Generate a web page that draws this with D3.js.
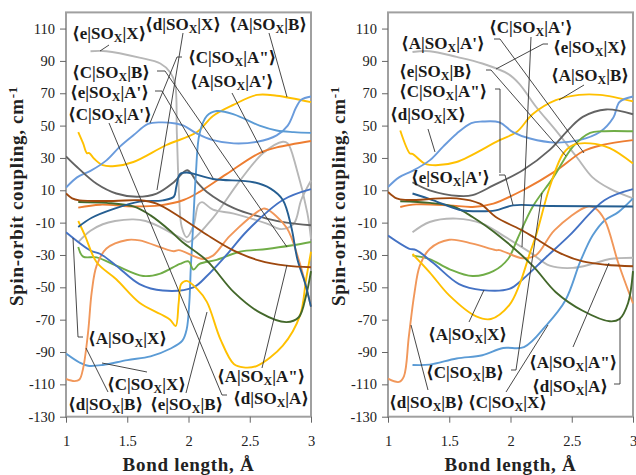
<!DOCTYPE html>
<html><head><meta charset="utf-8">
<script src="https://cdn.jsdelivr.net/npm/d3@7/dist/d3.min.js"></script>
<style>html,body{margin:0;padding:0;background:#fff}svg{display:block}</style>
</head><body><svg id="c" width="636" height="475"></svg>
<script>
const xTicks=[1,1.5,2,2.5,3];
const yTicks=[110,90,70,50,30,10,-10,-30,-50,-70,-90,-110,-130];

// left panel series [bond length, coupling]
const L_yellowAB=[[1.1,46],[1.14,39],[1.17,33],[1.19,33],[1.23,29.5],[1.3,25.5],[1.4,25],[1.55,27.5],[1.82,38],[2.07,46],[2.2,56],[2.37,63],[2.56,69],[2.72,68.5],[3,64.5]];
const L_midBlue=[[1,11.6],[1.09,18],[1.2,22],[1.33,28.5],[1.44,37],[1.55,44],[1.67,51],[1.77,52],[1.895,51.3],[1.96,50],[2.07,45],[2.2,41],[2.37,39],[2.56,40],[2.72,44],[2.81,50],[2.88,61.5],[2.92,66],[3,68]];
const L_lightBlue=[[1,-91],[1.11,-96.5],[1.18,-98.5],[1.3,-98],[1.5,-95],[1.69,-92.7],[1.85,-88],[1.95,-83],[1.985,-76],[2.007,-59],[2.018,-39],[2.034,-17],[2.06,20],[2.09,45],[2.15,56],[2.23,59],[2.37,57],[2.58,50],[2.72,47],[2.86,46],[3,45.5]];
const L_orange=[[1.1,-.7],[1.28,1.1],[1.55,0],[1.77,.7],[1.96,4],[2.09,9],[2.31,20],[2.58,33],[2.72,36.5],[3,40.5]];
const L_darkGray=[[1,31],[1.09,24.4],[1.25,14],[1.41,8],[1.58,6],[1.74,8],[1.88,15],[1.99,22.4],[2.07,15],[2.15,9],[2.37,-1],[2.64,-7.5],[2.8,-10],[3,-11.6]];
const L_darkBlue=[[1.1,-12.7],[1.21,-7],[1.39,-1.5],[1.6,3],[1.79,3.8],[1.88,6],[1.9,12],[1.93,20],[1.985,21],[2.2,17],[2.53,15],[2.67,11],[2.77,4],[2.84,-13],[2.89,-33],[2.95,-47],[3,-62]];
const L_blue=[[1,-16],[1.2,-27.3],[1.28,-29.4],[1.41,-36.6],[1.6,-48],[1.79,-52],[2.04,-50],[2.15,-43],[2.31,-30],[2.48,-15],[2.77,4],[3,10.7]];
const L_brown=[[1,8],[1.05,5],[1.11,3.8],[1.39,3.4],[1.6,3.8],[1.74,1.7],[1.93,-6.5],[2.15,-17.5],[2.37,-27.3],[2.58,-33.5],[2.8,-36.6],[3,-37.6]];
const L_darkGreen=[[1.1,2.8],[1.33,2.2],[1.55,0],[1.69,-5.5],[1.85,-15],[1.95,-22],[2.15,-33.5],[2.37,-53],[2.58,-65.5],[2.8,-71.5],[2.9,-68.5],[2.96,-55],[3,-40]];
const L_green=[[1.1,-25],[1.14,-31],[1.25,-31.5],[1.41,-36.6],[1.63,-43],[1.77,-41.5],[1.93,-35.5],[2,-34],[2.04,-39],[2.09,-35.5],[2.23,-33],[2.42,-28],[2.64,-26.3],[2.85,-24],[3,-22]];
const L_lightOrange=[[1,-106.7],[1.07,-108],[1.11,-107],[1.14,-100],[1.18,-78],[1.21,-53],[1.25,-36.6],[1.33,-26],[1.5,-20.7],[1.6,-21],[1.88,-27.7],[1.92,-27],[2.12,-32.5],[2.2,-30.4],[2.34,-18],[2.61,-1.3],[2.64,-1.7],[2.8,-13],[2.9,-33],[3,-62]];
const L_yellowEB=[[1.1,-9],[1.155,-18],[1.25,-34.5],[1.41,-45],[1.6,-59.5],[1.77,-66.5],[1.85,-70],[1.895,-74],[1.92,-59.5],[1.94,-48],[1.985,-46],[2.07,-51],[2.15,-59],[2.26,-82],[2.37,-97.4],[2.45,-99.5],[2.56,-98.5],[2.77,-86],[2.91,-67.5],[2.96,-45],[3,-28]];
const L_grayEX=[[1.2,96],[1.33,96],[1.6,92],[1.77,88.4],[1.85,83],[1.89,76],[1.905,45],[1.925,4],[1.945,-12.7],[1.985,-19],[2.04,-12],[2.08,1],[2.11,2.7],[2.2,-2],[2.37,-4.4],[2.64,-10.6],[2.76,-14],[2.86,-10.6],[2.92,4],[3,16]];
const L_grayAA=[[1.1,-22],[1.2,-15],[1.3,-11],[1.4,-9],[1.55,-8],[1.65,-9],[1.75,-12],[1.85,-16],[1.95,-20],[2,-22],[2.2,-7],[2.42,16],[2.61,33],[2.77,40],[2.81,39],[2.88,24],[2.97,-4],[3,-20]];

// right panel series
const R_yellowAB=[[1.1,47],[1.18,32.7],[1.2,32.5],[1.3,26.5],[1.39,25.5],[1.56,27.5],[1.91,41],[2.05,46],[2.18,57],[2.37,65.7],[2.56,69],[2.73,69],[3,65]];
const R_midBlue=[[1,12],[1.09,18],[1.2,22],[1.34,28.5],[1.45,37],[1.56,45],[1.68,51.6],[1.77,52.5],[1.91,52],[2.02,46],[2.16,42],[2.37,39.5],[2.56,41],[2.73,46],[2.84,55],[2.89,64.6],[3,68]];
const R_grayEX=[[1.2,95.5],[1.34,96],[1.56,92.5],[1.77,88.4],[1.98,82],[2.07,76],[2.21,61.5],[2.37,47],[2.54,30.6],[2.67,18],[2.81,11],[3,5]];
const R_darkGray=[[1.2,15],[1.34,10],[1.58,6.5],[1.69,7],[1.86,13],[2.1,22.4],[2.32,35],[2.48,48],[2.59,55.4],[2.78,60],[3,57]];
const R_orange=[[1.1,-.3],[1.23,1.3],[1.5,.7],[1.69,-.3],[1.86,1.8],[2.1,10],[2.37,22],[2.59,34],[2.75,38],[3,41]];
const R_darkBlue=[[1.2,8],[1.37,3.8],[1.58,-2],[1.75,-3],[1.88,-2.4],[2.02,.7],[2.32,.3],[3,0]];
const R_brown=[[1,9],[1.07,5],[1.15,4],[1.56,5],[1.75,1.7],[1.88,-6.5],[2.1,-15],[2.2,-19.5],[2.4,-28.7],[2.59,-34],[2.78,-36],[3,-37]];
const R_darkGreen=[[1.1,3.2],[1.34,2.2],[1.53,0],[1.69,-6.5],[1.92,-19],[2.18,-36.6],[2.37,-53],[2.59,-64.5],[2.81,-71],[2.89,-69.6],[2.96,-59.7],[3,-40]];
const R_grayAA=[[1.2,-16],[1.34,-9.6],[1.56,-7.5],[1.77,-10.6],[1.95,-18.5],[2.16,-28.4],[2.32,-36.6],[2.51,-38],[2.67,-35.5],[2.81,-32.5],[3,-31.7]];
const R_green=[[1.2,-30.4],[1.34,-32.5],[1.5,-38.7],[1.69,-43],[1.86,-40],[1.98,-32.5],[2.06,-19.5],[2.18,-.3],[2.35,18],[2.51,37],[2.65,45.5],[2.75,46.5],[3,46.5]];
const R_yellowEB=[[1.2,-29.4],[1.34,-40.7],[1.5,-55],[1.72,-68],[1.84,-69.6],[1.99,-61],[2.07,-49],[2.16,-28.4],[2.21,-17.5],[2.32,12],[2.43,32.7],[2.51,38],[2.65,39],[2.81,36],[3,26.5]];
const R_blue=[[1,-18],[1.17,-26],[1.23,-27],[1.37,-35],[1.58,-48],[1.77,-51.7],[1.99,-51],[2.1,-45],[2.29,-31.4],[2.48,-18],[2.77,4],[3,10.7]];
const R_lightBlue=[[1.2,-98],[1.34,-97.8],[1.56,-94],[1.77,-92],[1.94,-87.5],[2.11,-87],[2.29,-73.7],[2.45,-57.8],[2.57,-34],[2.67,-18],[2.77,-8.5],[2.88,-3.5],[3,5]];
const R_lightOrange=[[1,-106.5],[1.09,-108.5],[1.13,-105],[1.17,-80.5],[1.215,-54],[1.26,-36.6],[1.34,-26.3],[1.5,-20.6],[1.69,-23],[1.88,-27],[1.91,-27],[2.1,-32],[2.21,-30],[2.36,-14.6],[2.63,0],[2.69,-1],[2.77,-8.5],[2.88,-35],[3,-60]];

const colors={yellow:"#ffc000",midBlue:"#6a9bdc",lightBlue:"#5b9bd5",orange:"#ed7d31",darkGray:"#636363",darkBlue:"#255e91",blue:"#4472c4",brown:"#9e480e",darkGreen:"#43682b",green:"#70ad47",lightOrange:"#f1975a",gray:"#b7b7b7"};

const leftSeries=[[L_grayEX,colors.gray],[L_grayAA,colors.gray],[L_yellowAB,colors.yellow],[L_midBlue,colors.midBlue],[L_orange,colors.orange],[L_darkGray,colors.darkGray],[L_lightBlue,colors.lightBlue],[L_green,colors.green],[L_lightOrange,colors.lightOrange],[L_blue,colors.blue],[L_yellowEB,colors.yellow],[L_darkGreen,colors.darkGreen],[L_darkBlue,colors.darkBlue],[L_brown,colors.brown]];
const rightSeries=[[R_grayEX,colors.gray],[R_grayAA,colors.gray],[R_yellowAB,colors.yellow],[R_midBlue,colors.midBlue],[R_darkGray,colors.darkGray],[R_orange,colors.orange],[R_lightBlue,colors.lightBlue],[R_green,colors.green],[R_lightOrange,colors.lightOrange],[R_blue,colors.blue],[R_yellowEB,colors.yellow],[R_darkGreen,colors.darkGreen],[R_darkBlue,colors.darkBlue],[R_brown,colors.brown]];

// labels: [head, tail, left, baseline]
const leftLabels=[["e","X",72,39],["d","X",145,30],["A","B",229,30],["C",'A"',188,63],["C","B",72,78],["A","A'",190,87],["e","A'",70,98],["C","A'",68,120],["A","X",88,344],["C","X",107,390],["d","B",68,410],["e","B",150,410],["A",'A"',217,382],["d","A",233,404]];
const rightLabels=[["A","A'",401,49],["C","A'",489,33],["e","X",553,53],["e","B",399,77],["A","B",551,81],["C",'A"',399,97],["d","X",390,120],["e","A'",411,183],["A","X",428,340],["A",'A"',529,368],["C","B",426,378],["d","A",532,392],["d","B",389,408],["C","X",468,408]];
const leftLeaders=[[[100,51],[109,45]],[[183,33],[157,190]],[[269,33],[287,97]],[[182,57],[177,57],[150,123]],[[157,71],[165,71],[287,247]],[[155,91],[162,91],[213,178]],[[232,93],[263,153]],[[109,123],[222,395],[227,395]],[[73,238],[78,337],[83,337]],[[102,363],[147,372]],[[86,348],[108,392]],[[207,312],[186,393]],[[287,265],[262,368]]];
const rightLeaders=[[[494,39],[500,39],[584,153]],[[486,70],[491,70],[566,156]],[[548,44],[543,44],[496,69]],[[531,37],[522,247]],[[584,85],[559,100]],[[495,89],[500,89],[500,173]],[[428,129],[435,152]],[[499,175],[505,175],[513,205]],[[484,290],[469,322]],[[511,370],[516,370],[542,193]],[[573,347],[609,263]],[[614,384],[620,384],[620,318]],[[411,325],[428,390]],[[506,392],[548,325]]];

const serif="'Liberation Serif','DejaVu Serif',serif";
const svg=d3.select("#c");
const y=d3.scaleLinear().domain([-130,120]).range([416.7,12.4]);

function panel(x0,x1,series,labels,leaders){
  const x=d3.scaleLinear().domain([1,3]).range([x0,x1]);
  const g=svg.append("g");
  const line=d3.line().x(d=>x(d[0])).y(d=>y(d[1])).curve(d3.curveCatmullRom.alpha(0.5));
  g.append("rect").attr("x",x0).attr("y",y(120)).attr("width",x1-x0).attr("height",y(-130)-y(120)).attr("fill","none").attr("stroke","#a0a0a0").attr("stroke-width",2);
  const clip="clip"+Math.round(x0);
  g.append("clipPath").attr("id",clip).append("rect").attr("x",x0).attr("y",y(120)).attr("width",x1-x0+1).attr("height",y(-130)-y(120));
  g.append("g").attr("clip-path",`url(#${clip})`).selectAll("path").data(series).join("path")
    .attr("d",d=>line(d[0])).attr("fill","none").attr("stroke",d=>d[1]).attr("stroke-width",1.9).attr("stroke-linejoin","round");
  const ax=g.append("g").attr("transform",`translate(0,${y(-130)})`).call(d3.axisBottom(x).tickValues(xTicks).tickFormat(d=>d).tickSize(6).tickPadding(13));
  const ay=g.append("g").attr("transform",`translate(${x0},0)`).call(d3.axisLeft(y).tickValues(yTicks).tickSize(6).tickPadding(5).tickFormat(d=>d));
  [ax,ay].forEach(a=>{a.select(".domain").remove();a.selectAll("line").attr("stroke","#666").attr("stroke-width",1);
    a.selectAll("text").attr("font-family",serif).attr("font-size",14.5).attr("fill","#222");});
  g.append("g").selectAll("path").data(leaders).join("path").attr("d",d=>d3.line()(d)).attr("fill","none").attr("stroke","#333").attr("stroke-width",.9);
  const t=g.append("g").selectAll("text").data(labels).join("text").attr("x",d=>d[2]).attr("y",d=>d[3])
    .attr("font-family",serif).attr("font-weight","bold").attr("font-size",17).attr("fill","#1a1a1a");
  t.append("tspan").text(d=>`⟨${d[0]}|SO`);
  t.append("tspan").attr("dy",3).attr("font-size",12).text("X");
  t.append("tspan").attr("dy",-3).text(d=>`|${d[1]}⟩`);
  const mid=(x0+x1)/2;
  g.append("text").attr("x",mid).attr("y",471).attr("text-anchor","middle").attr("font-family",serif).attr("font-weight","bold").attr("font-size",19).attr("letter-spacing",.7).attr("fill","#222").text("Bond length, Å");
  const ty=x0-43;
  const yt=g.append("text").attr("transform",`translate(${ty},196) rotate(-90)`).attr("text-anchor","middle").attr("font-family",serif).attr("font-weight","bold").attr("font-size",19).attr("letter-spacing",.7).attr("fill","#222");
  yt.append("tspan").text("Spin-orbit coupling, cm");
  yt.append("tspan").attr("dy",-6).attr("font-size",13).text("-1");
}
panel(66,311,leftSeries,leftLabels,leftLeaders);
panel(388,633,rightSeries,rightLabels,rightLeaders);
</script></body></html>
